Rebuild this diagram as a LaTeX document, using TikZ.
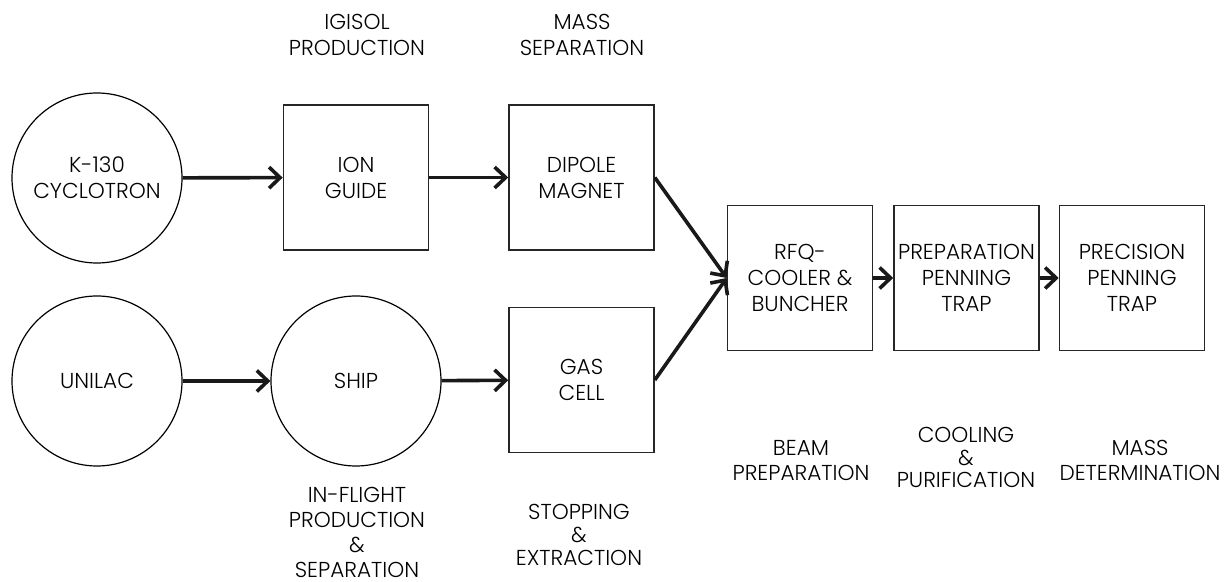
\documentclass[tikz,border=0pt]{standalone}
\usepackage{fontspec}
\setmainfont{Poppins}[UprightFont=* Light]
\usetikzlibrary{arrows.meta}
\tikzset{
	srcnode/.style ={circle, draw=black, line width=0.6pt, minimum size=85pt, inner sep=0pt, align=center},
	stagebox/.style={rectangle, draw=black!85, line width=0.8pt, minimum width=72.5pt, minimum height=72.5pt, inner sep=0pt, align=center},
	ionflow/.style ={-{Straight Barb[length=5.5pt, width=10.5pt]}, line width=1.8pt, black!90},
	note/.style    ={align=center, inner sep=0pt},
}
\begin{document}
\begin{tikzpicture}[x=0.5pt, y=-0.5pt, font=\fontsize{10.8}{13}\selectfont]
	\useasboundingbox (0,0) rectangle (1232,582);
	% sources and separators
	\node[srcnode] (cyc) at (97,178) {K-130\\CYCLOTRON};
	\node[srcnode] (unilac) at (97,381) {UNILAC};
	\node[srcnode] (ship) at (356,381) {SHIP};
	\node[stagebox] (guide) at (356,177.5) {ION\\GUIDE};
	\node[stagebox] (dipole) at (581.5,177.5) {DIPOLE\\MAGNET};
	\node[stagebox] (gascell) at (581.5,380) {GAS\\CELL};
	% common part
	\node[stagebox] (rfq) at (800,278) {RFQ-\\COOLER \&\\BUNCHER};
	\node[stagebox] (prep) at (966.5,278) {PREPARATION\\PENNING\\TRAP};
	\node[stagebox] (prec) at (1132,278) {PRECISION\\PENNING\\TRAP};
	% labels
	\node[note] (lbl-igisol) at (357,35) {IGISOL\\PRODUCTION};
	\node[note] (lbl-masssep) at (582,35) {MASS\\SEPARATION};
	\node[note, font=\fontsize{10.8}{12.5}\selectfont] (lbl-inflight) at (357,532) {IN-FLIGHT\\PRODUCTION\\\&\\SEPARATION};
	\node[note, font=\fontsize{10.8}{11.5}\selectfont] (lbl-stop) at (579,535) {STOPPING\\\&\\EXTRACTION};
	\node[note, font=\fontsize{10.8}{12.5}\selectfont] (lbl-beam) at (801,460.5) {BEAM\\PREPARATION};
	\node[note, font=\fontsize{10.8}{11.25}\selectfont] (lbl-cool) at (966,457.5) {COOLING\\\&\\PURIFICATION};
	\node[note, font=\fontsize{10.8}{12.5}\selectfont] (lbl-massdet) at (1140,460.5) {MASS\\DETERMINATION};
	% beam lines
	\draw[ionflow] (cyc) -- (guide);
	\draw[ionflow] (guide) -- (dipole);
	\draw[ionflow] (unilac) -- (ship);
	\draw[ionflow] (ship) -- (gascell);
	\draw[ionflow] (dipole.east) -- (rfq.west);
	\draw[ionflow] (gascell.east) -- (rfq.west);
	\draw[ionflow] (rfq) -- (prep);
	\draw[ionflow] (prep) -- (prec);
\end{tikzpicture}
\end{document}
